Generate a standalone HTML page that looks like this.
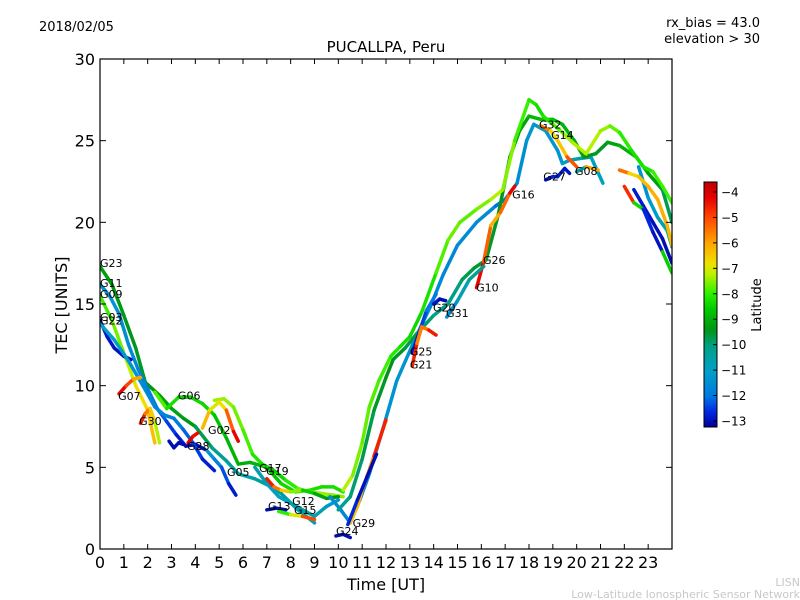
<!DOCTYPE html>
<html><head><meta charset="utf-8">
<style>
html,body{margin:0;padding:0;background:#fff;}
svg{display:block;font-family:"DejaVu Sans","Liberation Sans",sans-serif;}
</style></head>
<body>
<svg id="chart" width="800" height="600" viewBox="0 0 800 600" xmlns="http://www.w3.org/2000/svg">
  <defs>
    <clipPath id="plotclip"><rect x="100" y="59" width="572" height="490"/></clipPath>
    <linearGradient id="cbgrad" x1="0" y1="1" x2="0" y2="0"></linearGradient>
  </defs>
  <rect x="0" y="0" width="800" height="600" fill="#fff"/>
  <text x="39" y="31" font-size="13">2018/02/05</text>
  <text x="760" y="27" font-size="13" text-anchor="end">rx_bias = 43.0</text>
  <text x="760" y="43" font-size="13" text-anchor="end">elevation &gt; 30</text>
  <text x="386" y="52" font-size="15" text-anchor="middle">PUCALLPA, Peru</text>
  <g id="tracks" clip-path="url(#plotclip)"></g>
  <g id="labels"></g>
  <rect x="100" y="59" width="572" height="490" fill="none" stroke="#000" stroke-width="1.2"/>
  <g id="axes"></g>
  <text x="386" y="590" font-size="16" text-anchor="middle">Time [UT]</text>
  <text transform="translate(67,305) rotate(-90)" font-size="16" text-anchor="middle">TEC [UNITS]</text>
  <rect x="704" y="182" width="13" height="245" fill="url(#cbgrad)" stroke="#000" stroke-width="1"/>
  <g id="cbticks"></g>
  <text transform="translate(761,305) rotate(-90)" font-size="13" text-anchor="middle">Latitude</text>
  <text x="800" y="586" font-size="11" fill="#c8c8c8" text-anchor="end">LISN</text>
  <text x="800" y="598" font-size="11" fill="#c8c8c8" text-anchor="end">Low-Latitude Ionospheric Sensor Network</text>
</svg>
<script>
// ---- data ----
const xTicks = [0,1,2,3,4,5,6,7,8,9,10,11,12,13,14,15,16,17,18,19,20,21,22,23];
const yTicks = [0,5,10,15,20,25,30];
const cbTicks = [-4,-5,-6,-7,-8,-9,-10,-11,-12,-13];

const g23_t = [0,0.5,1,1.5,1.9,2.5,3,3.5,4,4.7,5.3,5.8,6.5,7.2,7.6,8.3,9];
const g23_v = [17.3,16.2,14.3,12.3,10.2,9.4,8.6,8,7.5,6.2,5.4,4.6,4.3,3.8,3.4,2.4,1.6];
const g23_l = [-9.3,-9.3,-9.4,-9.5,-9.5,-9.3,-9.2,-9.2,-9.5,-10,-10.3,-10.5,-10.5,-10.3,-10.2,-10.5,-11];

const g11_t = [0,0.4,0.8,1.2,1.6,2,2.4,2.8,3.2,3.6,4,4.4];
const g11_v = [16.2,15.5,14.4,12.5,11,9.8,8.6,7.8,7,6.3,6.4,6.1];
const g11_l = [-11.3,-11.3,-11.4,-11.5,-11.6,-11.8,-12,-12.3,-12.6,-13,-13,-13];

const g09_t = [0,0.5,1,1.5,2,2.3];
const g09_v = [15.5,14,12,10,8.5,6.5];
const g09_l = [-8,-7.8,-7.4,-7,-6.5,-6.2];

const g03_t = [0,0.3,0.6,1,1.3];
const g03_v = [14,13,12.3,11.8,11.6];
const g03_l = [-12.8,-12.8,-12.9,-12.9,-13];

const g22_t = [0,0.6,1.2,1.8,2.3,2.7,3.1,3.5,3.9,4.3,4.8];
const g22_v = [13.8,12.8,11.5,10,8.7,8.2,8,7.3,6.5,5.5,4.8];
const g22_l = [-11,-11,-11.2,-11.5,-11.6,-11.7,-11.8,-12,-12.3,-12.6,-12.9];

const g07_t = [0.8,1.1,1.4,1.7];
const g07_v = [9.5,10,10.4,10.5];
const g07_l = [-4,-4.5,-5.5,-6.5];

const g30_t = [1.7,1.9,2.1,2.3,2.5];
const g30_v = [7.7,8.3,8.6,7.8,6.5];
const g30_l = [-4,-5,-6,-7,-7.5];

const b13_t = [2.9,3.1,3.3,3.5];
const b13_v = [6.6,6.2,6.5,6.4];
const b13_l = [-13,-13,-13,-13];

const g06_t = [2.3,2.8,3.3,3.8,4.3,4.8,5.3,5.8,6.3,7,7.6,8.2,8.8,9.3,9.8,10.2];
const g06_v = [9.6,8.6,9.3,9.3,8.9,8.2,6.8,5.2,5.3,5,4,3.5,3.6,3.8,3.8,3.5];
const g06_l = [-7.6,-8,-8.5,-8.4,-8.3,-8.5,-8.8,-9,-9,-8.8,-8.5,-8.2,-8.2,-8.3,-8.3,-8.2];

const g02_t = [4.3,4.6,5,5.3,5.6,5.8];
const g02_v = [7.4,8.5,9,8.5,7.2,6.6];
const g02_l = [-6,-6.5,-7.5,-6,-4.5,-4];

const yg_t = [4.8,5.2,5.6,6,6.4,6.8,7.3,7.8,8.3,8.8,9.3,9.8,10.2];
const yg_v = [9.1,9.2,8.7,7.3,5.8,5.2,4.8,4.2,3.7,3.5,3.4,3.3,3.2];
const yg_l = [-7.4,-7.3,-7.5,-7.7,-8,-8.3,-8.5,-8.3,-7.8,-7.5,-7.4,-7.4,-7.5];

const g28_t = [3.7,3.9,4.1];
const g28_v = [6.5,6.9,7.1];
const g28_l = [-4,-4.2,-4.5];

const g05_t = [4.5,4.8,5.1,5.4,5.7];
const g05_v = [6,5.5,5,4,3.3];
const g05_l = [-11,-11.5,-12,-12.6,-13];

const tl_t = [6.5,7,7.5,8,8.5,9,9.5,10];
const tl_v = [5,4,3.2,2.8,2.4,2,2.6,3];
const tl_l = [-10.5,-10.8,-11,-10.8,-10.5,-10.3,-11,-11.5];

const g17_t = [7,7.3,7.6,8,8.5,9,9.5,10];
const g17_v = [4.3,3.8,3.6,3.5,3.6,3.4,3.1,3.2];
const g17_l = [-4,-5,-6,-7,-8,-9,-9.3,-9.5];

const g13_t = [7,7.4,7.8];
const g13_v = [2.4,2.5,2.4];
const g13_l = [-13,-13,-12.8];

const g15_t = [7.5,8,8.5,9];
const g15_v = [2.3,2.1,2.0,1.8];
const g15_l = [-8,-8,-6,-4];

const g24_t = [9.9,10.2,10.5];
const g24_v = [0.8,0.9,0.7];
const g24_l = [-13,-13,-13];

const ga_t = [10.2,10.6,11,11.3,11.7,12.2,12.6,13,13.5,14.1,14.6,15.1,15.8,16.4,16.9,17.4,18,18.3,18.6,19,19.4,19.9,20.4,21,21.4,21.8,22.3,22.8,23.2,23.6,24];
const ga_v = [3.6,4.5,6.5,8.7,10.3,11.8,12.4,13,14.5,16.9,18.9,20,20.8,21.4,22,25,27.5,27.2,26.5,26,25.5,24.8,24.2,25.6,25.9,25.5,24.4,23.4,23.1,22.2,21.2];
const ga_l = [-7,-7.5,-7.6,-7.8,-7.8,-8,-8.2,-8.3,-8.4,-8,-7.6,-7.7,-7.8,-7.3,-7.2,-7.8,-8,-8.2,-8.3,-8,-7.5,-7.3,-7.2,-7.3,-7.5,-7.9,-8.2,-8.3,-8,-7.8,-8];

const gb_t = [10,10.5,11,11.5,12,12.3,12.8,13.3,14,14.6,15.2,15.7,16.2,16.7,17.2,17.6,18,18.5,19,19.4,19.9,20.3,20.8,21.3,21.8,22.5,23,23.6,24];
const gb_v = [2.4,3.2,5.5,8.5,10.5,11.6,12.3,13.2,14.3,15,16.5,17.2,17.7,20.4,24,25.6,26.5,26.3,26.3,26,25,24,24.2,24.9,24.7,24,23,22,20];
const gb_l = [-10.5,-10,-9.8,-9.6,-9.4,-9.4,-9.6,-9.8,-10,-10.2,-9.8,-9.6,-9.5,-9.5,-9.4,-9.3,-9,-8.7,-8.6,-8.8,-9,-9.3,-9.6,-9.4,-9,-8.8,-9,-9.5,-10];

const gc_t = [9.65,10.1,10.5,10.9,11.3,11.9,12.45,13.2,13.85,14.4,15,15.8,16.6,17,17.5,17.9,18.2,18.7,19.2,19.4,19.7,20.1,20.6,21.1];
const gc_v = [3.2,2.4,1.6,3,4.6,7.5,10.3,12.8,14.8,16.8,18.6,20,21,21.4,22.4,25,26,25.6,24.4,23.6,23.8,23.9,24,22.4];
const gc_l = [-11.3,-11.5,-11.8,-11.8,-11.6,-11.4,-11.3,-11.3,-11.5,-11.6,-11.6,-11.4,-11.6,-12.5,-11.6,-11.3,-11.2,-11.2,-11.3,-11.3,-10.6,-10.5,-10.6,-11.2];

const gd_t = [10.5,10.8,11,11.5,12];
const gd_v = [1.6,2.6,3.6,5.7,7.9];
const gd_l = [-6.5,-6.3,-6.2,-5.2,-4];

const ge_t = [10.4,10.8,11.2,11.6];
const ge_v = [1.5,3,4.4,5.8];
const ge_l = [-12.5,-12.8,-13,-13];

const gf_t = [15.8,16.1,16.4,16.8,17.2,17.4];
const gf_v = [16,17.6,19.8,20.6,21.8,22.2];
const gf_l = [-4,-4.5,-6,-6.2,-4.5,-4];

const g31_t = [14.55,15,15.5,16.1];
const g31_v = [14.2,15.2,16.5,17.3];
const g31_l = [-11.8,-11,-10.5,-10];

const g25_t = [13.1,13.4,13.7,14.1];
const g25_v = [12,13.3,14.6,15.6];
const g25_l = [-13,-12.6,-12.2,-11.7];

const g21_t = [13.1,13.3,13.5,13.8,14.1];
const g21_v = [11.2,12.6,13.6,13.4,13.1];
const g21_l = [-4,-5.2,-6,-5,-4];

const g20_t = [14,14.25,14.5];
const g20_v = [15,15.3,15.2];
const g20_l = [-12.8,-13,-13];

const g14_t = [18.5,18.9,19.2,19.6,20];
const g14_v = [25.9,25.6,25,24,23.4];
const g14_l = [-4.5,-6.5,-6.8,-6,-4.2];

const g27_t = [18.7,19,19.2,19.5,19.7];
const g27_v = [22.6,22.8,22.8,23.3,23];
const g27_l = [-13,-12.7,-12.7,-12.9,-13];

const g08_t = [20,20.4,20.9];
const g08_v = [23.1,23.4,23.2];
const g08_l = [-12.8,-8,-4];

const ev1_t = [21.8,22.2,22.6,23,23.4,23.8,24];
const ev1_v = [23.2,23,22.8,22.2,21.4,19.8,18.6];
const ev1_l = [-4,-6.8,-6.5,-6.2,-6.1,-6.2,-6.3];

const ev2_t = [22,22.4,22.8,23.2,23.6,24];
const ev2_v = [22.2,21.2,20.8,19.4,18.2,16.9];
const ev2_l = [-5.2,-4.2,-12.5,-12.8,-13,-4];

const ev3_t = [22.4,22.8,23.2,23.6,24];
const ev3_v = [22,21,20,19,17.5];
const ev3_l = [-12.8,-12.8,-12.9,-13,-13];

const ev4_t = [22.6,23,23.4,23.8,24];
const ev4_v = [23.4,21.5,20.3,19.5,18.5];
const ev4_l = [-11.5,-11.3,-11,-10.5,-10.3];

const labelNames = ["G23","G11","G09","G03","G22","G07","G30","G06","G02","G28","G05","G17","G19","G13","G12","G15","G24","G29","G25","G21","G20","G31","G10","G26","G16","G32","G14","G27","G08"];
const labelT = [0,0,0,0,0,0.76,1.64,3.27,4.53,3.65,5.33,6.67,6.97,7.05,8.06,8.14,9.9,10.6,13.0,13.0,13.97,14.52,15.78,16.07,17.29,18.42,18.93,18.6,19.93];
const labelV = [17.5,16.3,15.6,14.2,14.0,9.37,7.84,9.4,7.3,6.3,4.7,4.96,4.78,2.63,2.94,2.39,1.1,1.6,12.1,11.3,14.8,14.45,16.0,17.7,21.7,26.0,25.35,22.8,23.15];

const tracks = [
  [g23_t,g23_v,g23_l],[g11_t,g11_v,g11_l],[g09_t,g09_v,g09_l],[g03_t,g03_v,g03_l],
  [g22_t,g22_v,g22_l],[g07_t,g07_v,g07_l],[g30_t,g30_v,g30_l],[b13_t,b13_v,b13_l],
  [g06_t,g06_v,g06_l],[yg_t,yg_v,yg_l],[g02_t,g02_v,g02_l],[g28_t,g28_v,g28_l],
  [g05_t,g05_v,g05_l],[tl_t,tl_v,tl_l],[g17_t,g17_v,g17_l],[g13_t,g13_v,g13_l],
  [g15_t,g15_v,g15_l],[g24_t,g24_v,g24_l],[gc_t,gc_v,gc_l],[gb_t,gb_v,gb_l],
  [ga_t,ga_v,ga_l],[gd_t,gd_v,gd_l],[ge_t,ge_v,ge_l],[gf_t,gf_v,gf_l],
  [g31_t,g31_v,g31_l],[g25_t,g25_v,g25_l],[g21_t,g21_v,g21_l],[g20_t,g20_v,g20_l],
  [g14_t,g14_v,g14_l],[g27_t,g27_v,g27_l],[g08_t,g08_v,g08_l],
  [ev4_t,ev4_v,ev4_l],[ev3_t,ev3_v,ev3_l],[ev1_t,ev1_v,ev1_l],[ev2_t,ev2_v,ev2_l]
];

// ---- scales ----
const NS = "http://www.w3.org/2000/svg";
function xs(t){ return 100 + t * (572/24); }
function ys(v){ return 549 - v * (490/30); }
function cby(l){ return 192 + (-4 - l) * (229/9); }
const cmapStops = [
  [-13.2,[0,0,150]],[-12.6,[0,40,230]],[-12,[0,120,225]],[-11,[0,160,200]],
  [-10,[0,160,130]],[-9.4,[0,150,20]],[-8.6,[0,200,0]],[-8,[40,240,0]],
  [-7.2,[190,240,0]],[-6.8,[240,225,0]],[-6,[255,165,0]],[-5,[255,70,0]],
  [-4.2,[230,0,0]],[-3.6,[190,0,0]]
];
function cmap(l){
  if(l<=cmapStops[0][0]) return "rgb("+cmapStops[0][1].join(",")+")";
  for(let i=1;i<cmapStops.length;i++){
    if(l<=cmapStops[i][0]){
      const a=cmapStops[i-1], b=cmapStops[i], f=(l-a[0])/(b[0]-a[0]);
      const c=a[1].map((x,k)=>Math.round(x+(b[1][k]-x)*f));
      return "rgb("+c.join(",")+")";
    }
  }
  return "rgb("+cmapStops[cmapStops.length-1][1].join(",")+")";
}

// colorbar gradient
const grad = document.getElementById("cbgrad");
for(const s of cmapStops){
  const st = document.createElementNS(NS,"stop");
  st.setAttribute("offset", ((s[0]+13.2)/(13.2-3.6)).toFixed(3));
  st.setAttribute("stop-color", cmap(s[0]));
  grad.appendChild(st);
}

// tracks
const tg = document.getElementById("tracks");
tracks.forEach((tr, idx) => {
  const [T,V,L] = tr;
  const g = document.createElementNS(NS,"g");
  
  
  for(let i=0;i<T.length-1;i++){
    const ln = document.createElementNS(NS,"line");
    ln.setAttribute("x1", xs(T[i])); ln.setAttribute("y1", ys(V[i]));
    ln.setAttribute("x2", xs(T[i+1])); ln.setAttribute("y2", ys(V[i+1]));
    ln.setAttribute("stroke", cmap((L[i]+L[i+1])/2));
    ln.setAttribute("stroke-width", "3.5");
    ln.setAttribute("stroke-linecap", "round");
    
    
    g.appendChild(ln);
  }
  tg.appendChild(g);
});

// labels
const lg = document.getElementById("labels");
labelNames.forEach((n,i)=>{
  const tx = document.createElementNS(NS,"text");
  tx.setAttribute("x", xs(labelT[i]));
  tx.setAttribute("y", ys(labelV[i]) + 4);
  tx.setAttribute("font-size", "11");
  tx.textContent = n;
  
  
  lg.appendChild(tx);
});

// axes
const ag = document.getElementById("axes");
function mk(tag, attrs){
  const e = document.createElementNS(NS, tag);
  for(const k in attrs) e.setAttribute(k, attrs[k]);
  return e;
}
xTicks.forEach(t=>{
  const x = xs(t);
  const a = mk("line",{x1:x,y1:549,x2:x,y2:544,stroke:"#000","stroke-width":1});
  
  
  ag.appendChild(a);
  const b = mk("line",{x1:x,y1:59,x2:x,y2:64,stroke:"#000","stroke-width":1});
  
  
  ag.appendChild(b);
  const tx = mk("text",{x:x,y:568,"font-size":16,"text-anchor":"middle"});
  tx.textContent = t;
  
  
  ag.appendChild(tx);
});
yTicks.forEach(v=>{
  const y = ys(v);
  const a = mk("line",{x1:100,y1:y,x2:106,y2:y,stroke:"#000","stroke-width":1});
  
  
  ag.appendChild(a);
  const b = mk("line",{x1:672,y1:y,x2:666,y2:y,stroke:"#000","stroke-width":1});
  
  
  ag.appendChild(b);
  const tx = mk("text",{x:95,y:y+6,"font-size":16,"text-anchor":"end"});
  tx.textContent = v;
  
  
  ag.appendChild(tx);
});
const cg = document.getElementById("cbticks");
cbTicks.forEach(l=>{
  const y = cby(l);
  const a = mk("line",{x1:713,y1:y,x2:717,y2:y,stroke:"#000","stroke-width":1});
  
  
  cg.appendChild(a);
  const tx = mk("text",{x:721,y:y+4.5,"font-size":12});
  tx.textContent = "\u2212" + Math.abs(l);
  
  
  cg.appendChild(tx);
});
</script>
</body></html>
